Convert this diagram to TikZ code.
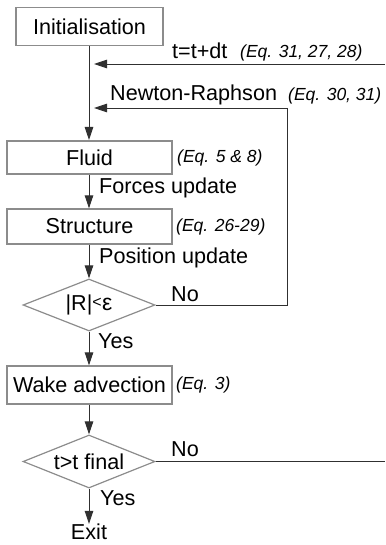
\documentclass[tikz,border=0pt]{standalone}
\usepackage{fontspec}
\setmainfont{Liberation Sans}
\usetikzlibrary{shapes.geometric,arrows.meta}
\definecolor{boxgray}{HTML}{8C8C8C}
\definecolor{linegray}{HTML}{303030}
\begin{document}
\begin{tikzpicture}[x=1pt,y=-1pt,
  every node/.style={font=\fontsize{21.6}{24}\selectfont, inner sep=0pt, text=black},
  procbox/.style={draw=boxgray, line width=1.2pt, rectangle, minimum width=165pt, minimum height=34pt},
  decision/.style={draw=boxgray, line width=1.2pt, diamond, aspect=2.54, minimum width=132pt, minimum height=52pt},
  arr/.style={draw=linegray, line width=0.9pt, -{Triangle[length=13pt,width=8.5pt]}},
  plain/.style={draw=linegray, line width=0.9pt},
  lbl/.style={anchor=west},
  eqlbl/.style={anchor=west, font=\fontsize{17.5}{20}\selectfont\itshape}]
\useasboundingbox (0,0) rectangle (385,545);
% nodes
\node[procbox, minimum width=147pt, minimum height=38pt] (init) at (89.5,26.5) {Initialisation};
\node[procbox, minimum height=33pt] (fluid) at (89.5,157.5) {Fluid};
\node[procbox, minimum height=35pt] (struct) at (89.5,226.5) {Structure};
\node[decision] (d1) at (89,305) {|R|\raisebox{3pt}{\fontsize{16}{16}\selectfont<}\kern0.5pt{\fontsize{23}{23}\selectfont ε}};
\node[procbox, minimum height=38pt] (wake) at (89.5,385) {Wake advection};
\node[decision, minimum height=53pt] (d2) at (89,461.5) {t>t final};
\node (exit) at (89,532) {Exit};
% coordinates
\coordinate (tin) at (385,64);
\coordinate (tip1) at (94,64);
\coordinate (nrc) at (287,108);
\coordinate (tip2) at (94,108);
\coordinate (tout) at (385,461.5);
\coordinate (fluidtop) at (89,140);
% connectors
\draw[arr] (init.south -| fluidtop) -- (fluidtop);
\draw[arr] (tin) -- (tip1);
\draw[plain] (d1.east) -| (nrc);
\draw[arr] (nrc) -- (tip2);
\draw[arr] (fluid.south -| fluidtop) -- (struct.north -| fluidtop);
\draw[arr] (struct.south -| fluidtop) -- (d1.north);
\draw[arr] (d1.south) -- (wake.north -| d1.south);
\draw[arr] (wake.south -| d1.south) -- (d2.north);
\draw[plain] (d2.east) -- (tout);
\draw[arr] (d2.south) -- (exit.north);
% labels
\node[lbl] (l1) at (172,51) {t=t+dt};
\node[eqlbl] (e1) at (240,53) {(Eq. 31, 27, 28)};
\node[lbl] (l2) at (110,95) {Newton-Raphson};
\node[eqlbl] (e2) at (288,96) {(Eq. 30, 31)};
\node[eqlbl] (e3) at (177,158) {(Eq. 5 \& 8)};
\node[lbl] (l3) at (99,188) {Forces update};
\node[eqlbl] (e4) at (176,227) {(Eq. 26-29)};
\node[lbl] (l4) at (99,258) {Position update};
\node[lbl] (no1) at (171,294) {No};
\node[lbl] (yes1) at (98,341) {Yes};
\node[eqlbl] (e5) at (176,385) {(Eq. 3)};
\node[lbl] (no2) at (171,449) {No};
\node[lbl] (yes2) at (100,498) {Yes};
\end{tikzpicture}
\end{document}
